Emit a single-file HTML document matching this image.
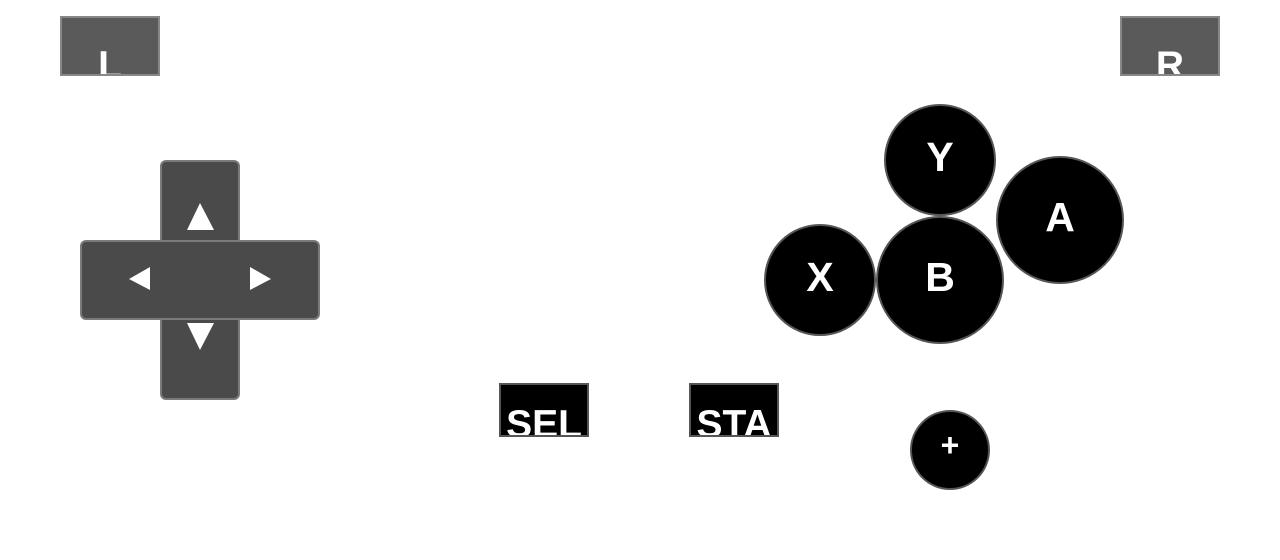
<!DOCTYPE html>
<html><head><style>
body{margin:0;width:1280px;height:560px;background:#fff;position:relative;overflow:hidden;font-family:"Liberation Sans",sans-serif;}
.sq{position:absolute;box-sizing:border-box;overflow:hidden;color:#fff;font-weight:bold;font-size:39px;text-align:center;}
.sh{background:#5a5a5a;border:2px solid #888;width:100px;height:60px;line-height:96px;}
.ss{background:#000;border:2px solid #555;width:90px;height:54px;line-height:80px;}
.d{position:absolute;box-sizing:border-box;background:#4a4a4a;border:2px solid #7a7a7a;border-radius:6px;}
.c{position:absolute;box-sizing:border-box;border-radius:50%;background:#000;border:2px solid #555;color:#fff;font-weight:bold;font-size:41px;display:flex;align-items:center;justify-content:center;padding-bottom:5px;}
</style></head><body>
<div class="sq sh" style="left:60px;top:16px">L</div>
<div class="sq sh" style="left:1120px;top:16px">R</div>
<div class="d" style="left:160px;top:160px;width:80px;height:240px"></div>
<div class="d" style="left:80px;top:240px;width:240px;height:80px"></div>
<div style="position:absolute;left:162px;top:242px;width:76px;height:76px;background:#4a4a4a"></div>
<svg style="position:absolute;left:0;top:0" width="400" height="420">
<polygon points="200,203 187,230 214,230" fill="#fff"/>
<polygon points="187,323 214,323 200,350" fill="#fff"/>
<polygon points="129,279 150,267 150,290" fill="#fff"/>
<polygon points="250,267 271,279 250,290" fill="#fff"/>
</svg>
<div class="sq ss" style="left:499px;top:383px">SEL</div>
<div class="sq ss" style="left:689px;top:383px">STA</div>
<div class="c" style="left:884px;top:104px;width:112px;height:112px">Y</div>
<div class="c" style="left:996px;top:156px;width:128px;height:128px">A</div>
<div class="c" style="left:764px;top:224px;width:112px;height:112px">X</div>
<div class="c" style="left:876px;top:216px;width:128px;height:128px">B</div>
<div class="c" style="left:910px;top:410px;width:80px;height:80px;font-size:32px;padding-bottom:10px">+</div>
</body></html>
